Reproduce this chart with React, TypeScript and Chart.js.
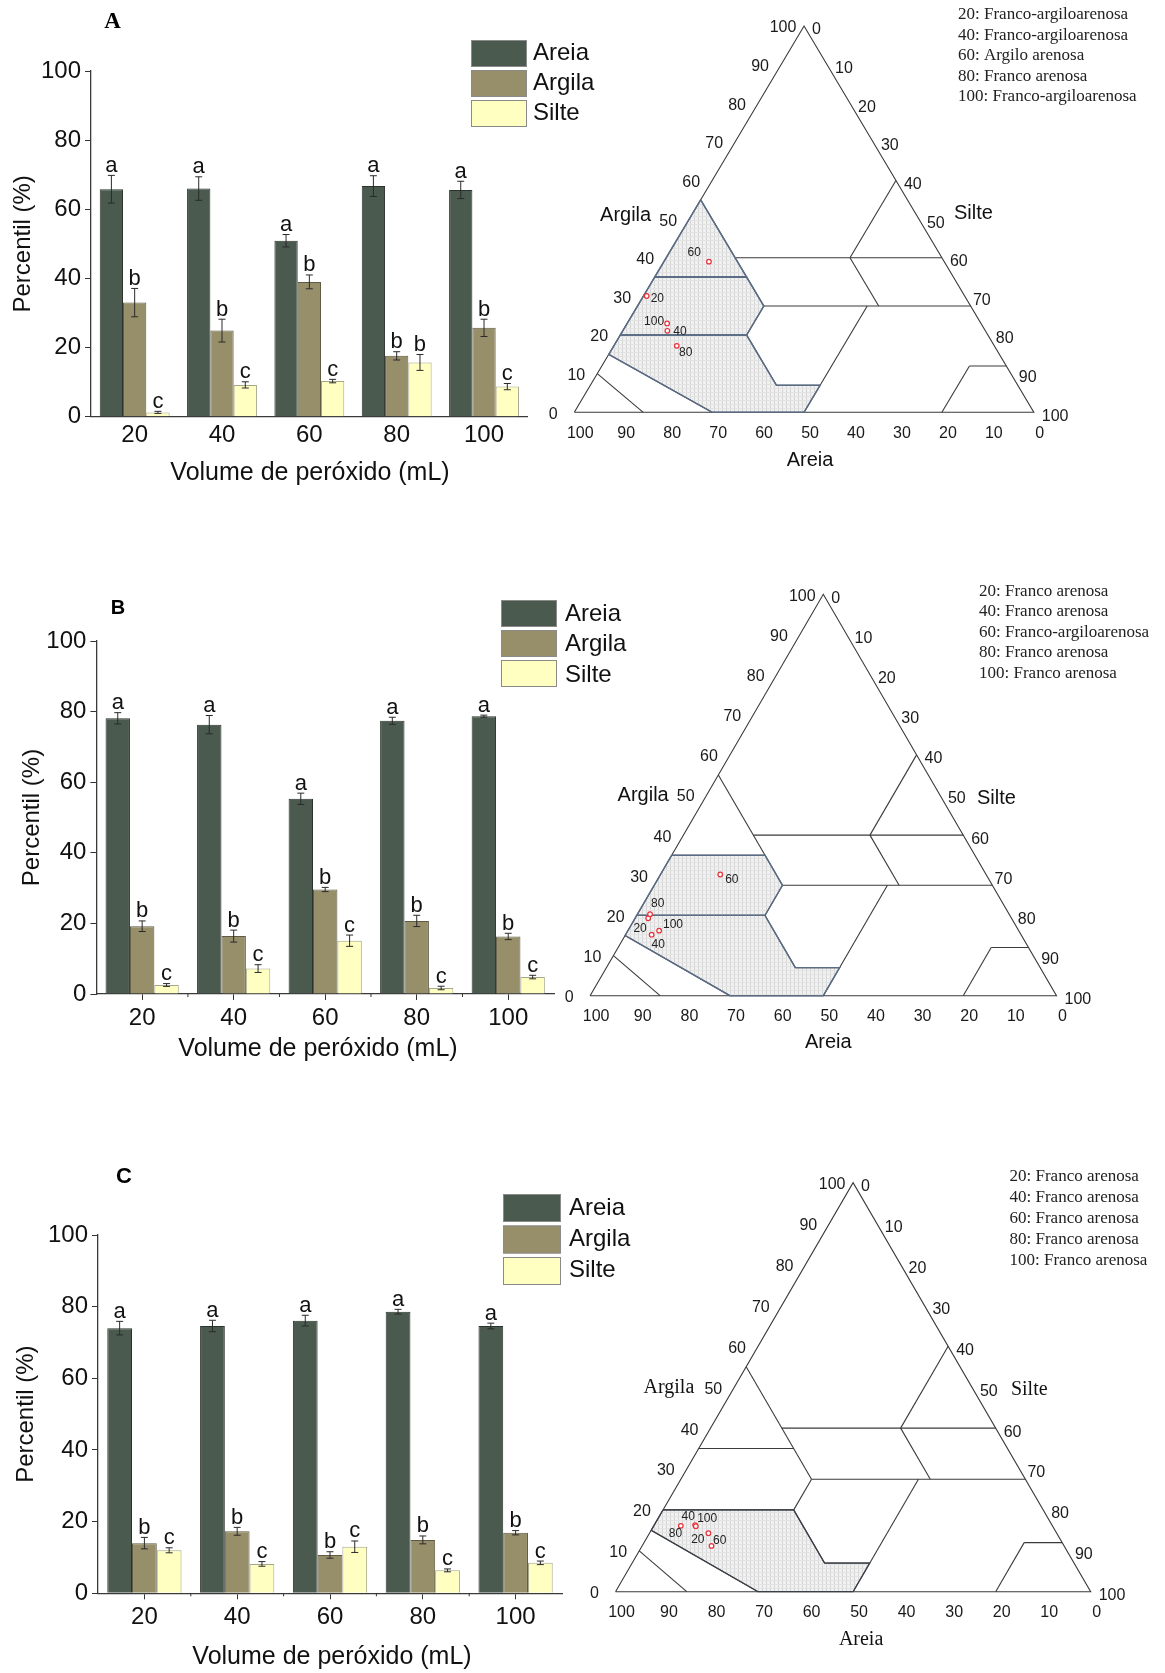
import React, { useEffect, useRef } from 'react';
import { Chart, registerables } from 'chart.js';
Chart.register(...registerables);

const SANS = "'Liberation Sans', Arial, Helvetica, sans-serif";
const SERIF = "'Liberation Serif', 'Times New Roman', serif";
Chart.defaults.font.family = SANS;

// ---------- bar chart data ----------
const volumes = ['20', '40', '60', '80', '100'];
const seriesNames = ['Areia', 'Argila', 'Silte'];
const yTickMin = 0;
const yTickMax = 100;
const yTickStep = 20;

// Panel A
const areiaA = [65.8, 66.0, 50.9, 66.7, 65.6];
const areiaErrA = [4.0, 3.4, 1.8, 3.0, 2.5];
const argilaA = [33.0, 24.9, 39.0, 17.6, 25.7];
const argilaErrA = [4.1, 3.3, 2.0, 1.2, 2.5];
const silteA = [1.25, 9.2, 10.3, 15.7, 8.7];
const silteErrA = [0.3, 0.9, 0.5, 2.3, 0.9];
const letAreiaA = ['a', 'a', 'a', 'a', 'a'];
const letArgilaA = ['b', 'b', 'b', 'b', 'b'];
const letSilteA = ['c', 'c', 'c', 'b', 'c'];

// Panel B
const areiaB = [78.1, 76.3, 55.3, 77.4, 78.7];
const areiaErrB = [1.6, 2.6, 1.6, 1.0, 0.3];
const argilaB = [19.2, 16.4, 29.6, 20.7, 16.3];
const argilaErrB = [1.5, 1.7, 0.6, 1.6, 0.9];
const silteB = [2.55, 7.2, 15.1, 1.7, 4.8];
const silteErrB = [0.4, 1.1, 1.6, 0.5, 0.5];
const letAreiaB = ['a', 'a', 'a', 'a', 'a'];
const letArgilaB = ['b', 'b', 'b', 'b', 'b'];
const letSilteB = ['c', 'c', 'c', 'c', 'c'];

// Panel C
const areiaC = [74.0, 74.6, 76.1, 78.6, 74.6];
const areiaErrC = [1.9, 1.6, 1.5, 0.65, 0.8];
const argilaC = [14.0, 17.3, 10.7, 14.9, 16.9];
const argilaErrC = [1.6, 1.1, 0.9, 1.1, 0.6];
const silteC = [12.0, 8.2, 13.0, 6.4, 8.5];
const silteErrC = [0.7, 0.65, 1.6, 0.4, 0.5];
const letAreiaC = ['a', 'a', 'a', 'a', 'a'];
const letArgilaC = ['b', 'b', 'b', 'b', 'b'];
const letSilteC = ['c', 'c', 'c', 'c', 'c'];

// ---------- texture triangle data (clay %, silt %) ----------
const ternPointLabels = ['20', '40', '60', '80', '100'];
const ternClayA = [30.1, 21.1, 39.0, 17.2, 23.0];
const ternSiltA = [0.7, 9.7, 9.8, 13.7, 8.7];
const ternClayB = [19.3, 15.2, 30.2, 20.3, 16.2];
const ternSiltB = [2.8, 5.6, 12.8, 2.7, 6.7];
const ternClayC = [14.3, 16.3, 11.2, 16.1, 16.0];
const ternSiltC = [12.4, 8.6, 14.6, 5.7, 8.9];

const ternTicks = [0, 10, 20, 30, 40, 50, 60, 70, 80, 90, 100];

const classTextA = [
  '20: Franco-argiloarenosa',
  '40: Franco-argiloarenosa',
  '60: Argilo arenosa',
  '80: Franco arenosa',
  '100: Franco-argiloarenosa',
];
const classTextB = [
  '20: Franco arenosa',
  '40: Franco arenosa',
  '60: Franco-argiloarenosa',
  '80: Franco arenosa',
  '100: Franco arenosa',
];
const classTextC = [
  '20: Franco arenosa',
  '40: Franco arenosa',
  '60: Franco arenosa',
  '80: Franco arenosa',
  '100: Franco arenosa',
];

// triangle outline and class boundaries, as [clay, silt] pairs
const triangleOutline = [[0, 0], [0, 100], [100, 0], [0, 0]];
const classLines = [
  [[10, 0], [0, 15]],
  [[15, 0], [0, 30]],
  [[55, 0], [27.5, 27.5]],
  [[35, 0], [35, 20]],
  [[20, 0], [20, 27.5]],
  [[27.5, 27.5], [20, 27.5]],
  [[20, 27.5], [7, 40.5]],
  [[7, 40.5], [7, 50]],
  [[27.5, 50], [0, 50]],
  [[40, 15], [40, 60]],
  [[27.5, 27.5], [27.5, 72.5]],
  [[40, 40], [60, 40]],
  [[40, 40], [27.5, 52.5]],
  [[12, 80], [12, 88]],
  [[12, 80], [0, 80]],
];
const polySandyClay = [[55, 0], [35, 0], [35, 20]];
const polySandyClayLoam = [[35, 0], [20, 0], [20, 27.5], [27.5, 27.5], [35, 20]];
const polySandyLoam = [[20, 0], [15, 0], [0, 30], [0, 50], [7, 50], [7, 40.5], [20, 27.5]];

// ---------- styles ----------
const BAR_COLORS = ['#4a5a4f', '#978f6a', '#ffffc2'];
const BAR_BORDERS = ['#2b332d', '#5f5a44', '#a6a68c'];

const toXY = (c: number, s: number) => ({ x: s + c / 2, y: c });

function makePattern(ctx: CanvasRenderingContext2D) {
  const t = document.createElement('canvas');
  t.width = 4;
  t.height = 4;
  const g = t.getContext('2d')!;
  g.fillStyle = '#f1f1f1';
  g.fillRect(0, 0, 4, 4);
  g.fillStyle = '#d6d6d6';
  g.fillRect(0, 0, 1, 4);
  g.fillStyle = '#e3e3e3';
  g.fillRect(0, 0, 4, 1);
  return ctx.createPattern(t, 'repeat');
}

// ---------- bar panel ----------
type BarCfg = {
  left: number; top: number; w: number; h: number;
  L: number; R: number; T: number; B: number;
  values: number[][]; errors: number[][]; letters: string[][];
  xTickMarks: boolean;
  yTitleX: number; xTitleX: number; xTitleY: number;
  leg: { bx: number; by: number; bw: number; bh: number; step: number; tx: number; ty: number; tstep: number };
  panel: { text: string; x: number; y: number; font: string };
};

function BarPanel({ cfg }: { cfg: BarCfg }) {
  const ref = useRef<HTMLCanvasElement>(null);
  useEffect(() => {
    const decor = {
      id: 'barDecor',
      afterDatasetsDraw(chart: any) {
        const ctx = chart.ctx as CanvasRenderingContext2D;
        const y = chart.scales.y;
        const area = chart.chartArea;
        cfg.values.forEach((vals, di) => {
          const meta = chart.getDatasetMeta(di);
          meta.data.forEach((bar: any, i: number) => {
            const v = vals[i];
            const e = cfg.errors[di][i];
            const yt = y.getPixelForValue(v + e);
            const yb = y.getPixelForValue(v - e);
            const x = bar.x;
            ctx.save();
            ctx.strokeStyle = '#2a2a2a';
            ctx.lineWidth = 1;
            ctx.beginPath();
            ctx.moveTo(x, yt); ctx.lineTo(x, yb);
            ctx.moveTo(x - 3.5, yt); ctx.lineTo(x + 3.5, yt);
            ctx.moveTo(x - 3.5, yb); ctx.lineTo(x + 3.5, yb);
            ctx.stroke();
            ctx.fillStyle = '#111';
            ctx.font = `22px ${SANS}`;
            ctx.textAlign = 'center';
            ctx.textBaseline = 'alphabetic';
            ctx.fillText(cfg.letters[di][i], x, yt - 3.5);
            ctx.restore();
          });
        });
        ctx.save();
        // minor boundary ticks
        if (cfg.xTickMarks) {
          ctx.strokeStyle = '#333';
          ctx.lineWidth = 1;
          ctx.beginPath();
          for (let k = 1; k < volumes.length; k++) {
            const bx = area.left + (k * (area.right - area.left)) / volumes.length;
            ctx.moveTo(bx, area.bottom);
            ctx.lineTo(bx, area.bottom + 3);
          }
          ctx.stroke();
        }
        // axis titles
        ctx.fillStyle = '#111';
        ctx.font = `24px ${SANS}`;
        ctx.textAlign = 'center';
        ctx.textBaseline = 'middle';
        ctx.save();
        ctx.translate(cfg.yTitleX, (area.top + area.bottom) / 2);
        ctx.rotate(-Math.PI / 2);
        ctx.fillText('Percentil (%)', 0, 0);
        ctx.restore();
        ctx.font = `25px ${SANS}`;
        ctx.fillText('Volume de peróxido (mL)', cfg.xTitleX, cfg.xTitleY);
        // legend
        const lg = cfg.leg;
        seriesNames.forEach((n, k) => {
          ctx.fillStyle = BAR_COLORS[k];
          ctx.fillRect(lg.bx, lg.by + k * lg.step, lg.bw, lg.bh);
          ctx.strokeStyle = '#8a8a8a';
          ctx.lineWidth = 1;
          ctx.strokeRect(lg.bx + 0.5, lg.by + k * lg.step + 0.5, lg.bw - 1, lg.bh - 1);
          ctx.fillStyle = '#111';
          ctx.font = `24px ${SANS}`;
          ctx.textAlign = 'left';
          ctx.textBaseline = 'middle';
          ctx.fillText(n, lg.tx, lg.ty + k * lg.tstep);
        });
        // panel letter
        ctx.font = cfg.panel.font;
        ctx.textAlign = 'center';
        ctx.textBaseline = 'middle';
        ctx.fillStyle = '#000';
        ctx.fillText(cfg.panel.text, cfg.panel.x, cfg.panel.y);
        ctx.restore();
      },
    };

    const chart = new Chart(ref.current!, {
      type: 'bar',
      data: {
        labels: volumes,
        datasets: seriesNames.map((n, k) => ({
          label: n,
          data: cfg.values[k],
          backgroundColor: BAR_COLORS[k],
          borderColor: BAR_BORDERS[k],
          borderWidth: 1,
          categoryPercentage: 0.8,
          barPercentage: 1.0,
        })),
      },
      options: {
        animation: false,
        responsive: false,
        devicePixelRatio: 1,
        events: [],
        layout: { padding: { left: 0, right: cfg.w - cfg.R, top: cfg.T, bottom: 0 } },
        plugins: { legend: { display: false }, tooltip: { enabled: false } },
        scales: {
          x: {
            grid: {
              display: cfg.xTickMarks,
              drawOnChartArea: false,
              drawTicks: cfg.xTickMarks,
              tickLength: 6,
              offset: false,
              color: '#333',
            },
            border: { display: true, color: '#3a3a3a', width: 1.3 },
            ticks: { font: { size: 24, family: SANS }, color: '#111', padding: 4 },
            afterFit: (s: any) => { s.height = cfg.h - cfg.B; },
          },
          y: {
            min: yTickMin,
            max: yTickMax,
            ticks: { stepSize: yTickStep, font: { size: 24, family: SANS }, color: '#111', padding: 4 },
            grid: { display: true, drawOnChartArea: false, drawTicks: true, tickLength: 6, color: '#333' },
            border: { display: true, color: '#3a3a3a', width: 1.3 },
            afterFit: (s: any) => { s.width = cfg.L; },
          },
        },
      },
      plugins: [decor],
    } as any);
    return () => chart.destroy();
  }, []);
  return (
    <canvas
      ref={ref}
      width={cfg.w}
      height={cfg.h}
      style={{ position: 'absolute', left: cfg.left, top: cfg.top, width: cfg.w, height: cfg.h }}
    />
  );
}

// ---------- ternary panel ----------
type TernCfg = {
  left: number; top: number; w: number; h: number;
  pad: { left: number; right: number; top: number; bottom: number };
  clay: number[]; silt: number[];
  labelOff: number[][];
  shaded: number[][][];
  hlColor: string; hlWidth: number;
  classText: string[]; classX: number; classY: number[];
  nameFont: string;
  argilaOff: number[]; silteOff: number[]; areiaOff: number[];
};

function TernPanel({ cfg }: { cfg: TernCfg }) {
  const ref = useRef<HTMLCanvasElement>(null);
  useEffect(() => {
    const decor = {
      id: 'ternDecor',
      beforeDatasetsDraw(chart: any) {
        const ctx = chart.ctx as CanvasRenderingContext2D;
        const { x, y } = chart.scales;
        const pat = makePattern(ctx);
        ctx.save();
        cfg.shaded.forEach((poly) => {
          ctx.beginPath();
          poly.forEach(([c, s], k) => {
            const p = toXY(c, s);
            const px = x.getPixelForValue(p.x);
            const py = y.getPixelForValue(p.y);
            if (k === 0) ctx.moveTo(px, py); else ctx.lineTo(px, py);
          });
          ctx.closePath();
          ctx.fillStyle = pat as any;
          ctx.fill();
        });
        ctx.restore();
      },
      afterDatasetsDraw(chart: any) {
        const ctx = chart.ctx as CanvasRenderingContext2D;
        const { x, y } = chart.scales;
        const P = (c: number, s: number) => {
          const p = toXY(c, s);
          return [x.getPixelForValue(p.x), y.getPixelForValue(p.y)];
        };
        ctx.save();
        ctx.fillStyle = '#1a1a1a';
        ctx.font = `16px ${SANS}`;
        ctx.textBaseline = 'middle';
        // Argila (left edge)
        ctx.textAlign = 'center';
        ternTicks.forEach((t) => {
          const [px, py] = P(t, 0);
          ctx.fillText(String(t), px - 21, py + 2);
        });
        // Silte (right edge)
        ctx.textAlign = 'left';
        ternTicks.forEach((t) => {
          const [px, py] = P(100 - t, t);
          ctx.fillText(String(t), px + 8, py + 4);
        });
        // Areia (bottom)
        ctx.textAlign = 'center';
        ternTicks.forEach((t) => {
          const [px, py] = P(0, 100 - t);
          ctx.fillText(String(t), px + 6, py + 21);
        });
        // axis names
        ctx.font = cfg.nameFont;
        ctx.fillStyle = '#111';
        let [px, py] = P(50, 0);
        ctx.textAlign = 'right';
        ctx.fillText('Argila', px + cfg.argilaOff[0], py + cfg.argilaOff[1]);
        [px, py] = P(50, 50);
        ctx.textAlign = 'left';
        ctx.fillText('Silte', px + cfg.silteOff[0], py + cfg.silteOff[1]);
        [px, py] = P(0, 50);
        ctx.textAlign = 'center';
        ctx.fillText('Areia', px + cfg.areiaOff[0], py + cfg.areiaOff[1]);
        // point labels
        ctx.font = `12px ${SANS}`;
        ctx.fillStyle = '#222';
        ctx.textAlign = 'center';
        ternPointLabels.forEach((lab, i) => {
          const [qx, qy] = P(cfg.clay[i], cfg.silt[i]);
          ctx.fillText(lab, qx + cfg.labelOff[i][0], qy + cfg.labelOff[i][1]);
        });
        // class list
        ctx.font = `17px ${SERIF}`;
        ctx.fillStyle = '#222';
        ctx.textAlign = 'left';
        cfg.classText.forEach((t, i) => ctx.fillText(t, cfg.classX, cfg.classY[i]));
        ctx.restore();
      },
    };

    const lineDs = (pts: number[][], color: string, width: number, order: number) => ({
      data: pts.map(([c, s]) => toXY(c, s)),
      showLine: true,
      borderColor: color,
      borderWidth: width,
      pointRadius: 0,
      fill: false,
      clip: false,
      order,
    });

    const datasets: any[] = [];
    datasets.push({
      data: cfg.clay.map((c, i) => toXY(c, cfg.silt[i])),
      showLine: false,
      pointRadius: 2.3,
      pointBorderWidth: 1.2,
      pointBorderColor: '#e8323a',
      pointBackgroundColor: 'rgba(255,255,255,0.9)',
      clip: false,
      order: 0,
    });
    cfg.shaded.forEach((poly) => datasets.push(lineDs([...poly, poly[0]], cfg.hlColor, cfg.hlWidth, 1)));
    classLines.forEach((seg) => datasets.push(lineDs(seg, '#3a3a3a', 1.1, 2)));
    datasets.push(lineDs(triangleOutline, '#3a3a3a', 1.1, 2));

    const chart = new Chart(ref.current!, {
      type: 'scatter',
      data: { datasets },
      options: {
        animation: false,
        responsive: false,
        devicePixelRatio: 1,
        events: [],
        layout: { padding: cfg.pad },
        plugins: { legend: { display: false }, tooltip: { enabled: false } },
        scales: {
          x: { type: 'linear', min: 0, max: 100, display: false },
          y: { type: 'linear', min: 0, max: 100, display: false },
        },
      },
      plugins: [decor],
    } as any);
    return () => chart.destroy();
  }, []);
  return (
    <canvas
      ref={ref}
      width={cfg.w}
      height={cfg.h}
      style={{ position: 'absolute', left: cfg.left, top: cfg.top, width: cfg.w, height: cfg.h }}
    />
  );
}

// ---------- layout configs ----------
const barA: BarCfg = {
  left: 0, top: 0, w: 660, h: 500,
  L: 91, R: 527.7, T: 71, B: 416.7,
  values: [areiaA, argilaA, silteA],
  errors: [areiaErrA, argilaErrA, silteErrA],
  letters: [letAreiaA, letArgilaA, letSilteA],
  xTickMarks: false,
  yTitleX: 23, xTitleX: 310, xTitleY: 473,
  leg: { bx: 471, by: 40, bw: 56, bh: 27, step: 30, tx: 533, ty: 53.5, tstep: 30 },
  panel: { text: 'A', x: 112.5, y: 22, font: `bold 23px ${SERIF}` },
};
const barB: BarCfg = {
  left: 0, top: 570, w: 660, h: 500,
  L: 96.4, R: 554, T: 71, B: 424,
  values: [areiaB, argilaB, silteB],
  errors: [areiaErrB, argilaErrB, silteErrB],
  letters: [letAreiaB, letArgilaB, letSilteB],
  xTickMarks: true,
  yTitleX: 32, xTitleX: 318, xTitleY: 479,
  leg: { bx: 501, by: 30, bw: 56, bh: 27, step: 30, tx: 565, ty: 44, tstep: 30.5 },
  panel: { text: 'B', x: 118, y: 38, font: `bold 20px ${SANS}` },
};
const barC: BarCfg = {
  left: 0, top: 1160, w: 660, h: 513,
  L: 98, R: 562, T: 75, B: 433.3,
  values: [areiaC, argilaC, silteC],
  errors: [areiaErrC, argilaErrC, silteErrC],
  letters: [letAreiaC, letArgilaC, letSilteC],
  xTickMarks: true,
  yTitleX: 26, xTitleX: 332, xTitleY: 497,
  leg: { bx: 503, by: 34, bw: 58, bh: 28, step: 31.5, tx: 569, ty: 48, tstep: 31 },
  panel: { text: 'C', x: 124, y: 17, font: `bold 22px ${SANS}` },
};

const ternA: TernCfg = {
  left: 530, top: 0, w: 635, h: 500,
  pad: { left: 44.3, right: 131.2, top: 26, bottom: 87.7 },
  clay: ternClayA, silt: ternSiltA,
  labelOff: [[10.7, 2.7], [12.7, 0.7], [-14.7, -9], [9, 6.7], [-13, -2]],
  shaded: [polySandyClay, polySandyClayLoam, polySandyLoam],
  hlColor: '#5a6c86', hlWidth: 1.5,
  classText: classTextA, classX: 428, classY: [15, 35.5, 56, 76.5, 97],
  nameFont: `20px ${SANS}`,
  argilaOff: [-38, -4], silteOff: [35, -6], areiaOff: [6, 48],
};
const ternB: TernCfg = {
  left: 530, top: 570, w: 635, h: 500,
  pad: { left: 60.1, right: 108.5, top: 24.3, bottom: 74.3 },
  clay: ternClayB, silt: ternSiltB,
  labelOff: [[-8.1, 10], [6.6, 10.3], [11.6, 5], [7.7, -11], [13.9, -5.7]],
  shaded: [polySandyClayLoam, polySandyLoam],
  hlColor: '#5a6c86', hlWidth: 1.4,
  classText: classTextB, classX: 449, classY: [21.7, 42, 63, 83, 104],
  nameFont: `20px ${SANS}`,
  argilaOff: [-38, 0], silteOff: [37, 3], areiaOff: [5, 47],
};
const ternC: TernCfg = {
  left: 530, top: 1160, w: 635, h: 513,
  pad: { left: 85.5, right: 74.3, top: 22.7, bottom: 81.3 },
  clay: ternClayC, silt: ternSiltC,
  labelOff: [[-10.6, 6], [-6.8, -8], [8.3, -5.7], [-5.3, 7.7], [11.4, -8]],
  shaded: [polySandyLoam],
  hlColor: '#3a3f4a', hlWidth: 1.2,
  classText: classTextC, classX: 479.5, classY: [16.7, 37.7, 59, 80, 101],
  nameFont: `20px ${SERIF}`,
  argilaOff: [-40, 1], silteOff: [39, 3], areiaOff: [8, 48],
};

export default function App() {
  return (
    <div style={{ position: 'absolute', left: 0, top: 0, width: 1165, height: 1673, background: '#ffffff', overflow: 'hidden' }}>
      <BarPanel cfg={barA} />
      <BarPanel cfg={barB} />
      <BarPanel cfg={barC} />
      <TernPanel cfg={ternA} />
      <TernPanel cfg={ternB} />
      <TernPanel cfg={ternC} />
    </div>
  );
}
